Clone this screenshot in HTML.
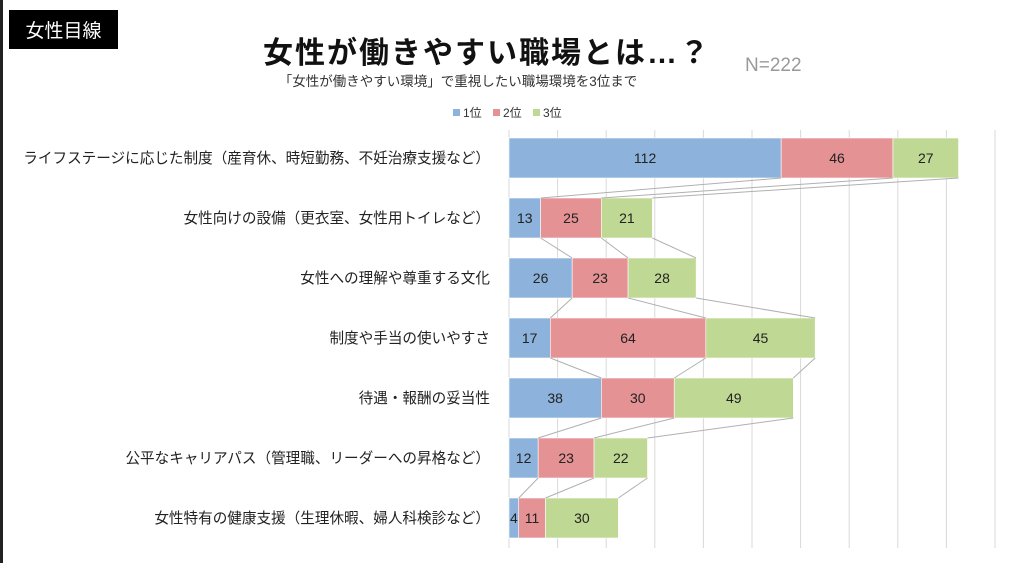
<!DOCTYPE html><html><head><meta charset="utf-8"><style>body{margin:0;background:#fff}svg{display:block}</style></head><body>
<svg width="1024" height="563" xmlns="http://www.w3.org/2000/svg" font-family="Liberation Sans, Noto Sans CJK JP, sans-serif">
<rect x="0" y="0" width="3" height="563" fill="#222"/>
<rect x="9" y="10" width="109" height="39" fill="#000"/>
<text x="63.5" y="37" font-size="19" fill="#fff" text-anchor="middle">女性目線</text>
<text x="487" y="63" font-size="30" font-weight="bold" text-anchor="middle" fill="#111" letter-spacing="2">女性が働きやすい職場とは…？</text>
<text x="745" y="71" font-size="19" fill="#999">N=222</text>
<text x="458" y="86" font-size="13.5" text-anchor="middle" fill="#333">「女性が働きやすい環境」で重視したい職場環境を3位まで</text>
<g font-size="12" fill="#333">
<rect x="453" y="109" width="7" height="7" fill="#8db3dc"/><text x="463" y="117">1位</text>
<rect x="493" y="109" width="7" height="7" fill="#e59294"/><text x="503" y="117">2位</text>
<rect x="533" y="109" width="7" height="7" fill="#bfd994"/><text x="543" y="117">3位</text>
</g>
<g stroke="#d9d9d9" stroke-width="1">
<line x1="557.6" y1="130" x2="557.6" y2="548"/><line x1="606.2" y1="130" x2="606.2" y2="548"/><line x1="654.8" y1="130" x2="654.8" y2="548"/><line x1="703.4" y1="130" x2="703.4" y2="548"/><line x1="752" y1="130" x2="752" y2="548"/><line x1="800.6" y1="130" x2="800.6" y2="548"/><line x1="849.2" y1="130" x2="849.2" y2="548"/><line x1="897.8" y1="130" x2="897.8" y2="548"/><line x1="946.4" y1="130" x2="946.4" y2="548"/><line x1="995" y1="130" x2="995" y2="548"/>
<line x1="509" y1="130" x2="509" y2="548"/>
</g>
<g id="bars" font-size="14" text-anchor="middle" fill="#222"></g>
<g id="labels" font-size="14.6" text-anchor="end" fill="#222"></g>
<g id="lines" stroke="#b0b0b0" stroke-width="1" fill="none"></g>
<script>
var d=[[112,46,27],[13,25,21],[26,23,28],[17,64,45],[38,30,49],[12,23,22],[4,11,30]];
var L=["ライフステージに応じた制度（産育休、時短勤務、不妊治療支援など）","女性向けの設備（更衣室、女性用トイレなど）","女性への理解や尊重する文化","制度や手当の使いやすさ","待遇・報酬の妥当性","公平なキャリアパス（管理職、リーダーへの昇格など）","女性特有の健康支援（生理休暇、婦人科検診など）"];
var c=["#8db3dc","#e59294","#bfd994"],s=2.43,x0=509,ns="http://www.w3.org/2000/svg";
var B=document.getElementById("bars"),T=document.getElementById("labels"),G=document.getElementById("lines");
function el(t,a,p,tx){var e=document.createElementNS(ns,t);for(var k in a)e.setAttribute(k,a[k]);if(tx!=null)e.textContent=tx;p.appendChild(e);return e;}
var prev=null;
d.forEach(function(r,i){var y=138+60*i,x=x0,ends=[];
el("text",{x:490,y:y+25},T,L[i]);
r.forEach(function(v,j){var w=v*s;el("rect",{x:x,y:y,width:w,height:40,fill:c[j],stroke:"#fff","stroke-width":0.6},B);
el("text",{x:x+w/2,y:y+25},B,v);x+=w;ends.push(x);});
if(prev)ends.forEach(function(e,j){el("line",{x1:prev[j],y1:y-20,x2:e,y2:y},G);});
prev=ends;});
</script>
</svg></body></html>
